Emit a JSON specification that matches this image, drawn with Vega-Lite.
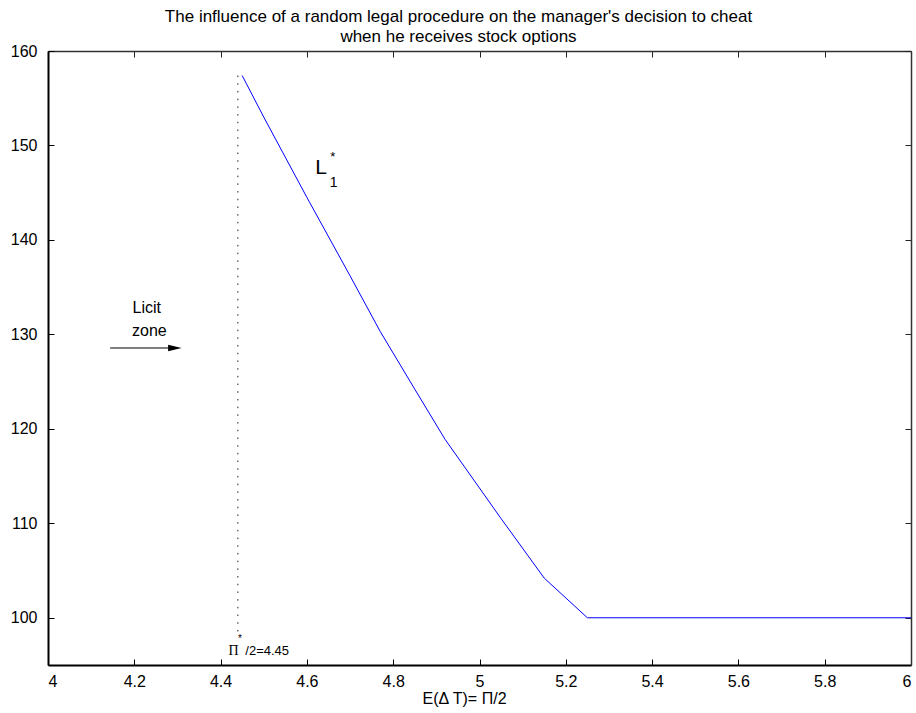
{
  "$schema": "https://vega.github.io/schema/vega-lite/v6.json",
  "width": 863,
  "height": 614,
  "autosize": {"type": "none"},
  "padding": {"left": 48, "top": 51, "right": 5, "bottom": 48},
  "background": "white",
  "config": {
    "view": {"stroke": null},
    "font": "Liberation Sans",
    "axis": {"labelFont": "Liberation Sans", "titleFont": "Liberation Sans", "grid": false}
  },
  "title": {
    "text": ["The influence of a random legal procedure on the manager's decision to cheat", "when he receives stock options"],
    "fontSize": 17,
    "fontWeight": "normal",
    "font": "Liberation Sans",
    "anchor": "middle",
    "dx": -21,
    "offset": -3,
    "lineHeight": 20,
    "color": "black"
  },
  "datasets": {
    "curve": [
      {"x": 4.45, "y": 157.4},
      {"x": 4.5, "y": 153.0},
      {"x": 4.6, "y": 144.5},
      {"x": 4.7, "y": 136.2},
      {"x": 4.77, "y": 130.3},
      {"x": 4.85, "y": 124.2},
      {"x": 4.92, "y": 118.9},
      {"x": 5.05, "y": 110.5},
      {"x": 5.15, "y": 104.2},
      {"x": 5.25, "y": 100.0},
      {"x": 6.0, "y": 100.0}
    ],
    "threshold": [
      {"x": 4.44, "y": 157.4, "y2": 98.1}
    ],
    "arrow": [
      {"x": 4.144, "x2": 4.285, "y": 128.56}
    ],
    "arrowhead": [
      {"x": 4.294, "y": 128.56}
    ],
    "labels": [
      {"x": 4.229, "y": 132.8, "text": "Licit", "size": 16},
      {"x": 4.235, "y": 130.4, "text": "zone", "size": 16},
      {"x": 4.633, "y": 147.6, "text": "L", "size": 21},
      {"x": 4.662, "y": 146.0, "text": "1", "size": 14},
      {"x": 4.660, "y": 148.75, "text": "*", "size": 13},
      {"x": 4.508, "y": 96.5, "text": "/2=4.45", "size": 13},
      {"x": 4.445, "y": 97.7, "text": "*", "size": 10}
    ],
    "pi": [
      {"x": 4.430, "y": 96.5, "text": "Π"}
    ]
  },
  "resolve": {"axis": {"x": "independent", "y": "independent"}},
  "layer": [
    {
      "data": {"name": "curve"},
      "mark": {"type": "line", "color": "#0000ff", "strokeWidth": 1, "clip": true},
      "encoding": {
        "x": {
          "field": "x", "type": "quantitative",
          "scale": {"domain": [4, 6], "nice": false, "zero": false},
          "axis": {
            "orient": "bottom",
            "values": [4, 4.2, 4.4, 4.6, 4.8, 5, 5.2, 5.4, 5.6, 5.8, 6],
            "format": "~g",
            "title": "E(Δ T)= Π/2",
            "titleFontSize": 16,
            "titleFontWeight": "normal",
            "titleColor": "black",
            "titleX": 416,
            "titlePadding": 1,
            "labelFontSize": 16,
            "labelColor": "black",
            "labelPadding": 14,
            "tickSize": -6,
            "tickColor": "black",
            "tickWidth": 1,
            "domain": true,
            "domainColor": "black",
            "domainWidth": 2
          }
        },
        "y": {
          "field": "y", "type": "quantitative",
          "scale": {"domain": [95, 160], "nice": false, "zero": false},
          "axis": {
            "orient": "left",
            "values": [100, 110, 120, 130, 140, 150, 160],
            "title": null,
            "labelFontSize": 16,
            "labelColor": "black",
            "labelPadding": 17,
            "tickSize": -6,
            "tickColor": "black",
            "tickWidth": 1,
            "domain": true,
            "domainColor": "black",
            "domainWidth": 2
          }
        }
      }
    },
    {
      "data": {"name": "curve"},
      "mark": {"type": "point", "opacity": 0},
      "encoding": {
        "x": {
          "field": "x", "type": "quantitative",
          "axis": {
            "orient": "top",
            "values": [4, 4.2, 4.4, 4.6, 4.8, 5, 5.2, 5.4, 5.6, 5.8, 6],
            "labels": false,
            "title": null,
            "tickSize": -6,
            "tickColor": "#222",
            "domainColor": "#333",
            "domainWidth": 1.5
          }
        },
        "y": {
          "field": "y", "type": "quantitative",
          "axis": {
            "orient": "right",
            "values": [100, 110, 120, 130, 140, 150, 160],
            "labels": false,
            "title": null,
            "tickSize": -6,
            "tickColor": "#222",
            "domainColor": "#333",
            "domainWidth": 1.5
          }
        }
      }
    },
    {
      "data": {"name": "threshold"},
      "mark": {"type": "rule", "color": "#222", "strokeWidth": 1, "strokeDash": [1.5, 6.2]},
      "encoding": {
        "x": {"field": "x", "type": "quantitative", "axis": null},
        "y": {"field": "y", "type": "quantitative", "axis": null},
        "y2": {"field": "y2"}
      }
    },
    {
      "data": {"name": "arrow"},
      "mark": {"type": "rule", "color": "black", "strokeWidth": 1},
      "encoding": {
        "x": {"field": "x", "type": "quantitative", "axis": null},
        "x2": {"field": "x2"},
        "y": {"field": "y", "type": "quantitative", "axis": null}
      }
    },
    {
      "data": {"name": "arrowhead"},
      "mark": {"type": "point", "filled": true, "color": "black", "opacity": 1, "shape": "M-1,-0.5L1,0L-1,0.5Z", "size": 180},
      "encoding": {
        "x": {"field": "x", "type": "quantitative", "axis": null},
        "y": {"field": "y", "type": "quantitative", "axis": null}
      }
    },
    {
      "data": {"name": "labels"},
      "mark": {"type": "text", "color": "black", "font": "Liberation Sans", "align": "center", "baseline": "middle"},
      "encoding": {
        "x": {"field": "x", "type": "quantitative", "axis": null},
        "y": {"field": "y", "type": "quantitative", "axis": null},
        "text": {"field": "text"},
        "size": {"field": "size", "type": "quantitative", "scale": null, "legend": null}
      }
    },
    {
      "data": {"name": "pi"},
      "mark": {"type": "text", "color": "black", "font": "Liberation Serif", "fontSize": 14, "align": "center", "baseline": "middle"},
      "encoding": {
        "x": {"field": "x", "type": "quantitative", "axis": null},
        "y": {"field": "y", "type": "quantitative", "axis": null},
        "text": {"field": "text"}
      }
    }
  ]
}
